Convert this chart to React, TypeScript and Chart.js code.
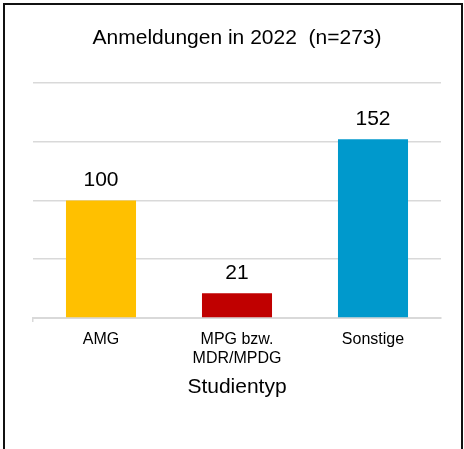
import React, { useEffect, useRef } from "react";
import { Chart, registerables } from "chart.js";

Chart.register(...registerables);

const categories: (string | string[])[] = ["AMG", ["MPG bzw.", "MDR/MPDG"], "Sonstige"];
const values: number[] = [100, 21, 152];
const barColors: string[] = ["#FFC000", "#C00000", "#0099CC"];
const chartTitle = "Anmeldungen in 2022  (n=273)";
const xAxisTitle = "Studientyp";
const yMin = 0;
const yMax = 200;
const yStep = 50;

const FONT = "'Liberation Sans', Arial, Helvetica, sans-serif";

const framePlugin = {
  id: "frame",
  beforeDraw(chart: any) {
    const ctx = chart.ctx;
    ctx.save();
    ctx.fillStyle = "#ffffff";
    ctx.fillRect(0, 0, chart.width, chart.height);
    ctx.strokeStyle = "#111111";
    ctx.lineWidth = 2;
    ctx.beginPath();
    ctx.moveTo(4, chart.height + 2);
    ctx.lineTo(4, 4);
    ctx.lineTo(462, 4);
    ctx.lineTo(462, chart.height + 2);
    ctx.stroke();
    ctx.restore();
  },
};

const valueLabelPlugin = {
  id: "valueLabels",
  afterDatasetsDraw(chart: any) {
    const ctx = chart.ctx;
    ctx.save();
    ctx.font = `21px ${FONT}`;
    ctx.fillStyle = "#000000";
    ctx.textAlign = "center";
    ctx.textBaseline = "alphabetic";
    chart.data.datasets.forEach((ds: any, di: number) => {
      const meta = chart.getDatasetMeta(di);
      meta.data.forEach((el: any, i: number) => {
        ctx.fillText(String(ds.data[i]), el.x, el.y - 14);
      });
    });
    ctx.restore();
  },
};

export default function App() {
  const canvasRef = useRef<HTMLCanvasElement | null>(null);

  useEffect(() => {
    if (!canvasRef.current) return;
    const chart = new Chart(canvasRef.current, {
      type: "bar",
      data: {
        labels: categories as any,
        datasets: [
          {
            data: values,
            backgroundColor: barColors,
            borderWidth: 0,
            categoryPercentage: 1,
            barPercentage: 0.515,
          },
        ],
      },
      options: {
        animation: false,
        responsive: false,
        maintainAspectRatio: false,
        devicePixelRatio: 1,
        layout: { padding: { left: 33, right: 23, top: 0, bottom: 0 } },
        plugins: {
          legend: { display: false },
          tooltip: { enabled: false },
          title: {
            display: true,
            text: chartTitle,
            color: "#000000",
            font: { family: FONT, size: 21, weight: "normal", lineHeight: 1.2 },
            padding: { top: 26, bottom: 31.7 },
          },
        },
        scales: {
          x: {
            grid: {
              display: true,
              drawOnChartArea: false,
              drawTicks: true,
              tickLength: 4,
              lineWidth: 1.5,
              color: (c: any) => (c.index === 0 ? "#d9d9d9" : "rgba(0,0,0,0)"),
            },
            border: { display: true, color: "#d9d9d9", width: 2 },
            ticks: {
              color: "#000000",
              font: { family: FONT, size: 16, lineHeight: 1.15 },
              padding: 8.5,
              maxRotation: 0,
              autoSkip: false,
            },
            title: {
              display: true,
              text: xAxisTitle,
              color: "#000000",
              font: { family: FONT, size: 21, lineHeight: 1.2 },
              padding: { top: 0, bottom: 49.5 },
            },
            afterFit: (s: any) => {
              s.height = 131;
            },
          },
          y: {
            min: yMin,
            max: yMax,
            ticks: { display: false, stepSize: yStep },
            grid: { color: "#d9d9d9", lineWidth: 1.5, drawTicks: false },
            border: { display: false },
            afterFit: (s: any) => {
              s.width = 0;
            },
          },
        },
      },
      plugins: [framePlugin, valueLabelPlugin],
    });
    return () => chart.destroy();
  }, []);

  return (
    <div style={{ position: "fixed", left: 0, top: 0, width: 464, height: 449, background: "#fff" }}>
      <canvas ref={canvasRef} width={464} height={449} style={{ display: "block", width: 464, height: 449 }} />
    </div>
  );
}
